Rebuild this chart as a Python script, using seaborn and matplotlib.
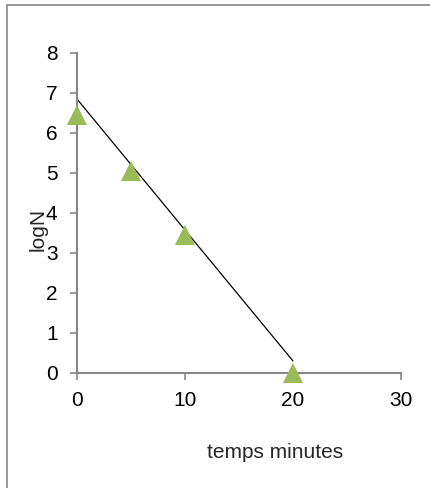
import matplotlib
matplotlib.use("Agg")
import matplotlib.pyplot as plt
import seaborn as sns
import pandas as pd
from matplotlib.patches import Rectangle

# Measured survivors (log10 N) against heating time
temps = [0, 5, 10, 20]
log_n = [6.45, 5.05, 3.45, 0.0]

# Trend line drawn across the measured range
trend_x = [0, 20]
trend_y = [6.85, 0.3]

x_ticks = [0, 10, 20, 30]
y_ticks = [0, 1, 2, 3, 4, 5, 6, 7, 8]

sns.set_style("white")
plt.rcParams["font.family"] = ["Liberation Sans", "DejaVu Sans"]

fig = plt.figure(figsize=(4.3, 4.88), dpi=100)
ax = fig.add_axes([0.179, 0.2357, 0.7535, 0.6557])

points = pd.DataFrame({"temps": temps, "logN": log_n})
trend = pd.DataFrame({"temps": trend_x, "logN": trend_y})

sns.lineplot(data=trend, x="temps", y="logN", ax=ax, color="black",
             linewidth=0.9, zorder=2)
sns.scatterplot(data=points, x="temps", y="logN", ax=ax, marker="^",
                s=210, color="#9BBB59", edgecolor="none", zorder=3,
                clip_on=False)

ax.set_xlim(0, 30)
ax.set_ylim(0, 8)
ax.set_xticks(x_ticks)
ax.set_yticks(y_ticks)

for side in ("top", "right"):
    ax.spines[side].set_visible(False)
for side in ("left", "bottom"):
    ax.spines[side].set_color("#868686")
    ax.spines[side].set_linewidth(1.5)

ax.tick_params(axis="both", direction="out", length=5, width=1.2,
               color="#868686", labelsize=15, labelcolor="black",
               left=True, bottom=True)
ax.tick_params(axis="y", pad=9)
ax.tick_params(axis="x", pad=8)

ax.set_xlabel("temps minutes", fontsize=15, va="center")
ax.xaxis.set_label_coords(0.611, -0.247)
ax.set_ylabel("logN", fontsize=15, va="center")
ax.yaxis.set_label_coords(-0.12, 0.45)

# Chart frame, open on the right and bottom edges
fig.patches.append(Rectangle((7 / 430, -0.1), 1.2, 1 - 5 / 488 + 0.1,
                             transform=fig.transFigure, fill=False,
                             edgecolor="#868686", linewidth=1.2))

fig.savefig("out.png", dpi=100)
